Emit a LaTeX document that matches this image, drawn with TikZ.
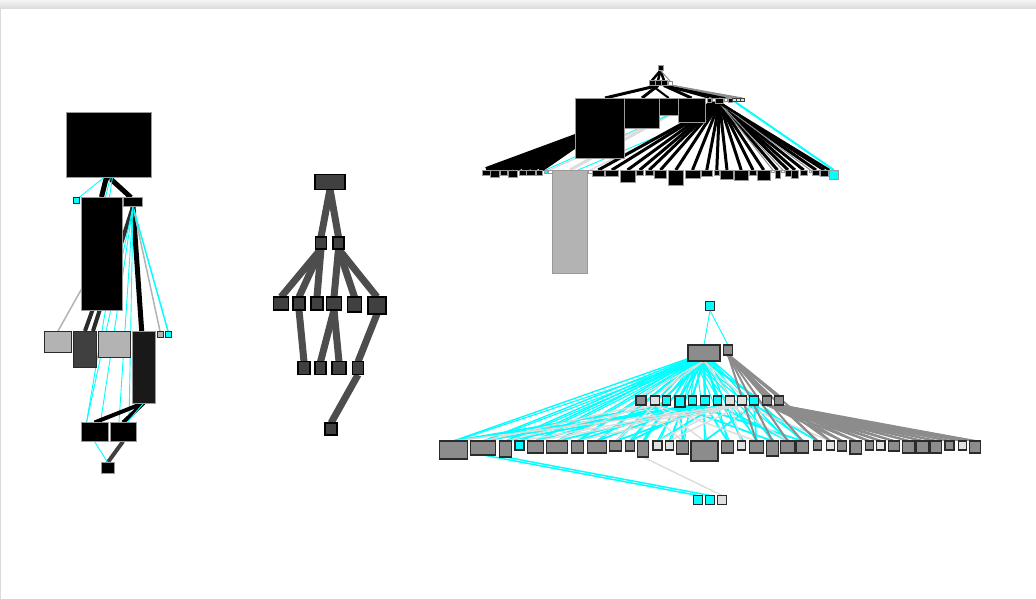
\documentclass[tikz,border=0pt]{standalone}
\usetikzlibrary{positioning}
\definecolor{Aqua}{HTML}{00FFFF}
\definecolor{Smoke}{HTML}{B3B3B3}
\definecolor{Slate}{HTML}{404040}
\definecolor{Steel}{HTML}{8C8C8C}
\definecolor{Pale}{HTML}{E0E0E0}
\definecolor{Rim}{HTML}{2B2B2B}
\definecolor{Frame}{HTML}{9A9A9A}
\definecolor{Wire}{HTML}{4D4D4D}
\definecolor{Dust}{HTML}{DCDCDC}
\definecolor{Haze}{HTML}{F4F4F4}
\definecolor{Shade}{HTML}{DADADA}
\pgfdeclarelayer{paper}
\pgfdeclarelayer{wires}
\pgfsetlayers{paper,wires,main}
\tikzset{
  box/.style={rectangle, inner sep=0pt, outer sep=0pt, line width=0.6pt},
  dims/.style 2 args={minimum width=#1pt, minimum height=#2pt},
  inkbox/.style={box, fill=black, draw=Frame},
  smokebox/.style={box, fill=Smoke, draw=Rim, line width=1pt},
  slatebox/.style={box, fill=Slate, draw=black, line width=1.3pt},
  steelbox/.style={box, fill=Steel, draw=Rim, line width=1.1pt},
  aquabox/.style={box, fill=Aqua, draw=Rim, line width=1.1pt},
  inklink/.style={draw=black, line width=4pt},
  slatelink/.style={draw=Slate, line width=4pt},
  greylink/.style={draw=Smoke, line width=1.5pt},
  steellink/.style={draw=Steel, line width=1.5pt},
  dustlink/.style={draw=Dust, line width=1.4pt},
  aqualink/.style={draw=Aqua, line width=0.9pt},
  bandlink/.style={draw=Wire, line width=7pt}
}
\begin{document}
\begin{tikzpicture}[x=1pt, y=-1pt]
  \useasboundingbox (0,0) rectangle (1036,599);
  \begin{pgfonlayer}{paper}
    \fill[white] (0,0) rectangle (1036,599);
    \shade[top color=Haze, bottom color=Shade] (0,0) rectangle (1036,9);
    \draw[Shade, line width=1pt] (0.5,9) -- (0.5,599);
  \end{pgfonlayer}

  % left graph
  \node[inkbox, dims={85}{65}] (hubA) at (108.5,144.5) {};
  \node[aquabox, dims={6}{6}, line width=0.7pt] (seedA) at (76,200.5) {};
  \node[inkbox, dims={41}{113}] (tallA) at (101.5,253.5) {};
  \node[inkbox, dims={19}{9}] (forkA) at (133,202) {};
  \node[smokebox, dims={27}{21}, anchor=north] (a1) at (58,331) {};
  \node[box, fill=Slate, draw=Rim, dims={23}{36}, anchor=north] (a2) at (85,331) {};
  \node[smokebox, dims={32}{26}, anchor=north] (a3) at (114.3,331) {};
  \node[box, fill=black!90, draw=Frame, dims={23}{72}, anchor=north] (a4) at (143.7,331) {};
  \node[smokebox, dims={6}{6}, anchor=north, line width=0.7pt] (a5) at (160,331) {};
  \node[aquabox, dims={6}{6}, anchor=north, line width=0.7pt] (a6) at (168,331) {};
  \node[inkbox, dims={27}{19}] (lowA) at (94.5,432) {};
  \node[inkbox, dims={26}{19}] (lowB) at (123,432) {};
  \node[inkbox, dims={13}{11}] (sinkA) at (107.7,468) {};

  % middle graph
  \node[slatebox, dims={30}{15}] (topB) at (330,181.7) {};
  \node[slatebox, dims={11}{12}] (m1) at (321,243) {};
  \node[slatebox, dims={11}{12}] (m2) at (338.5,243) {};
  \foreach \i/\x/\w/\h in {1/281/15/13, 2/299/12/13, 3/317/12/13, 4/334/15/13, 5/354.5/14/15, 6/377/18/17}
    \node[slatebox, dims={\w}{\h}, anchor=north] (n\i) at (\x,297) {};
  \foreach \i/\x/\w in {1/304/12, 2/320.5/11, 3/339/14, 4/358/11}
    \node[slatebox, dims={\w}{13}] (k\i) at (\x,368.3) {};
  \node[slatebox, dims={12}{12}] (sinkB) at (331,429) {};

  % top right graph
  \node[inkbox, dims={5}{5}] (rootC) at (660.5,68) {};
  \foreach \i/\x in {1/652, 2/658, 3/664}
    \node[inkbox, dims={6}{5}] (mid\i) at (\x,83) {};
  \node[box, fill=white, draw=Steel, dims={4}{4}] (mid4) at (670,83) {};
  \node[inkbox, dims={49}{60}, anchor=north west] (blkA) at (575.5,98) {};
  \node[inkbox, dims={35}{30}, anchor=north west] (blkB) at (624.5,98) {};
  \node[inkbox, dims={18.5}{17}, anchor=north west] (blkC) at (659.5,98) {};
  \node[inkbox, dims={27}{24}, anchor=north west] (blkD) at (678,98) {};
  \node[inkbox, dims={4}{4}, anchor=north] (s1) at (709,98) {};
  \node[box, fill=white, draw=Steel, dims={3}{3}, anchor=north] (s2) at (713.5,98) {};
  \node[inkbox, dims={8}{5}, anchor=north] (hubC) at (719.5,98) {};
  \node[box, fill=white, draw=Steel, dims={3}{3}, anchor=north] (s3) at (725.5,98) {};
  \node[inkbox, dims={4}{4}, anchor=north] (s4) at (730,98) {};
  \foreach \i/\x in {5/734.5, 6/738.5, 7/742.5}
    \node[box, fill=Pale, draw=Slate, dims={3.5}{3.5}, anchor=north] (s\i) at (\x,98) {};
  \foreach \i/\x/\w/\h/\f in {1/486.3/7.3/5/black, 2/495/8.6/7/black, 3/504/6.7/5/black,
      4/512.8/9/7/black, 5/522.5/7/5/black, 6/530.8/8.3/5/black, 7/539.3/6.7/5/black,
      8/545.7/3.5/3.5/Aqua, 9/550/3.5/3.5/white, 10/570/34.7/103/Smoke, 11/590/3.5/3.5/white,
      12/598.3/11.3/6/black, 13/611.8/13/6/black, 14/627.5/15/12/black, 15/639.7/7.3/5/black,
      16/649.2/8.3/5/black, 17/660.5/12.3/8/black, 18/675.8/15/15/black, 19/692.5/15/8/black,
      20/706.8/11.7/6/black, 21/716.8/5/5/black, 22/727/12.7/9/black, 23/741.2/14.3/10/black,
      24/753/7.3/5/black, 25/763.7/12.7/10/black, 26/772.8/2.5/2.5/white, 27/777.5/5/8/black,
      28/782.8/2.5/2.5/white, 29/788/6/6/black, 30/795/6.7/8/black, 31/803.7/7.3/5/black,
      32/810.3/2.7/2.7/white, 33/816/6.7/5/black, 34/824.2/8.3/6/black, 35/833.8/9/9/Aqua}
    \node[box, fill=\f, draw=Frame, line width=0.5pt, dims={\w}{\h}, anchor=north] (t\i) at (\x,170) {};

  % bottom right graph
  \node[aquabox, dims={9}{9}] (seedD) at (710,306) {};
  \node[steelbox, dims={32}{16}] (bigD) at (704,353) {};
  \node[steelbox, dims={9}{10}, anchor=north] (sideD) at (728,345) {};
  \foreach \i/\x/\w/\h/\f in {1/641/10/9/Steel, 2/655.3/9/9/Pale, 3/666.7/8/9/Aqua, 4/680/10/11/Aqua,
      5/692.5/8.5/9/Aqua, 6/705/9/9/Aqua, 7/717.5/8.5/9/Aqua, 8/730/8.5/9/Pale, 9/742/9/9/Pale,
      10/754/8.5/9/Aqua, 11/767/9/9/Steel, 12/778.7/9/9/Steel}
    \node[box, fill=\f, draw=Rim, line width=1.1pt, dims={\w}{\h}, anchor=north] (r\i) at (\x,396) {};
  \foreach \i/\x/\w/\h/\f in {1/453.3/28/18/Steel, 2/483.2/25/14/Steel, 3/505.5/12.3/16/Steel,
      4/519.5/9/9/Aqua, 5/535.3/16/12/Steel, 6/557.2/21/12/Steel, 7/577.2/12.3/12/Steel,
      8/597/19.3/12/Steel, 9/615.5/12.3/10/Steel, 10/629.7/9.3/10/Steel, 11/643/10.7/16/Steel,
      12/657.5/9/9/Pale, 13/669.2/8.3/9/Pale, 14/682.5/11.7/13/Steel, 15/704.5/27/20/Steel,
      16/727.5/11.7/12/Steel, 17/741.5/8.3/9/Pale, 18/756.3/14/12/Steel, 19/772.5/11.7/15/Steel,
      20/787.8/14.3/12/Steel, 21/802.5/11.7/12/Steel, 22/817.5/8.3/9/Steel, 23/830.2/8.3/9/Pale,
      24/842.2/9/10/Steel, 25/855.8/11.7/13/Steel, 26/869.2/8.3/9/Steel, 27/880.8/8.3/9/Pale,
      28/893.8/11/10/Steel, 29/908.8/12.3/12/Steel, 30/922.5/11.7/12/Steel, 31/935.8/11.7/12/Steel,
      32/949.5/9/9/Steel, 33/962.5/8.3/9/Pale, 34/974.7/10.7/12/Steel}
    \node[box, fill=\f, draw=Rim, line width=1.1pt, dims={\w}{\h}, anchor=north] (b\i) at (\x,441) {};
  \foreach \i/\x/\f in {1/698/Aqua, 2/710/Aqua, 3/722/Pale}
    \node[box, fill=\f, draw=Rim, line width=1.1pt, dims={9}{9}] (d\i) at (\x,500) {};

  \begin{pgfonlayer}{wires}
    % left graph
    \draw[inklink, line width=5pt] ([xshift=-2pt]hubA.south) -- (tallA.north);
    \draw[inklink, line width=5pt] (hubA.south) -- ([xshift=-2pt]forkA.north);
    \draw[aqualink] ([xshift=-4pt]hubA.south) -- (seedA.north east);
    \draw[aqualink] ([xshift=2pt]hubA.south) -- ([xshift=4pt]tallA.north);
    \draw[aqualink] ([xshift=4pt]hubA.south) -- ([xshift=8pt]tallA.north);
    \draw[inklink, line width=5pt] (forkA.south) -- ([xshift=-2pt]a4.north);
    \draw[greylink] (forkA.south) -- (a5.north);
    \draw[aqualink, line width=1.5pt] (forkA.south) -- (a6.north);
    \draw[slatelink, draw=Rim] (forkA.south) -- ([xshift=8pt]a2.north);
    \draw[greylink] (tallA.center) -- (a1.north);
    \draw[slatelink, draw=Rim] ([xshift=-9pt]tallA.south) -- (a2.north);
    \draw[aqualink] (forkA.south) -- ([xshift=-8pt]lowA.north);
    \draw[aqualink] (forkA.south) -- ([xshift=6pt]lowA.north);
    \draw[aqualink] (forkA.south) -- ([xshift=-4pt]lowB.north);
    \draw[aqualink] (forkA.south) -- ([xshift=6pt]lowB.north);
    \draw[aqualink] ([xshift=4pt]tallA.south) -- ([xshift=-8pt]lowA.north);
    \draw[inklink] (a4.south) -- (lowA.north);
    \draw[inklink] (a4.south) -- (lowB.north);
    \draw[aqualink] (a4.south) -- ([xshift=4pt]lowB.north);
    \draw[slatelink] (lowB.south) -- (sinkA.north);
    \draw[aqualink] (lowA.south) -- (sinkA.north);
    % middle graph
    \foreach \s/\t in {topB/m1, topB/m2, m1/n1, m1/n2, m1/n3, m2/n4, m2/n5, m2/n6,
        n2/k1, n4/k2, n4/k3, n6/k4, k4/sinkB}
      \draw[bandlink] (\s.south) -- (\t.north);
    % top right graph
    \foreach \t in {mid1, mid2, mid3}
      \draw[inklink, line width=2.5pt] (rootC.south) -- (\t.north);
    \draw[steellink, line width=1pt] (rootC.south) -- (mid4.north);
    \draw[inklink, line width=3pt] (mid2.south) -- ([xshift=5pt]blkA.north);
    \draw[inklink, line width=3pt] (mid2.south) -- (blkB.north);
    \draw[inklink, line width=3pt] (mid3.south) -- (blkD.north);
    \draw[inklink, line width=3pt] (mid3.south) -- (hubC.north);
    \draw[inklink, line width=2pt] (mid1.south) -- (blkC.north);
    \foreach \t in {s4, s5, s6, s7}
      \draw[steellink, line width=1pt] (mid4.south) -- (\t.north);
    \foreach \t in {s1, s3}
      \draw[inklink, line width=1.5pt] (mid3.south) -- (\t.north);
    \foreach \j in {1,...,7}
      \draw[inklink, line width=6pt] (blkA.center) -- (t\j.north);
    \draw[inklink, line width=10pt] (blkD.east) -- (hubC.south);
    \draw[dustlink, line width=3pt] (blkC.south) -- (t10.north);
    \draw[aqualink] (blkC.south) -- (t8.north);
    \draw[aqualink] (blkD.south) -- ([xshift=8pt]t10.north);
    \draw[dustlink] (blkB.south) -- (t9.north);
    \draw[dustlink] (blkD.south) -- (t11.north);
    \foreach \j in {12,...,25,27,29,30,31,33,34}
      \draw[inklink, line width=3pt] (hubC.south) -- (t\j.north);
    \foreach \j in {26, 28, 32}
      \draw[steellink, line width=1pt] (hubC.south) -- (t\j.north);
    \draw[aqualink, line width=2pt] (s5.south) -- (t35.north);
    \draw[inklink, line width=2.5pt] (hubC.south) -- (t35.north west);
    % bottom right graph
    \draw[aqualink] (seedD.south) -- (bigD.north);
    \draw[aqualink] (seedD.south) -- (sideD.north);
    \foreach \j in {1,...,21} {
      \draw[aqualink, line width=1.4pt] (bigD.center) -- (b\j.north);
      \draw[aqualink, line width=1.1pt] ([xshift=-8pt]bigD.south) -- ([xshift=2pt]b\j.north);
    }
    \foreach \j in {3,4,5,6,7,10}
      \draw[aqualink, line width=2pt] (bigD.south) -- (r\j.north);
    \foreach \j in {1,2,8,9}
      \draw[dustlink] (bigD.south) -- (r\j.north);
    \foreach \s/\t in {r3/b5, r3/b11, r4/b14, r4/b19, r5/b8, r5/b21, r6/b16, r6/b1,
        r7/b20, r7/b9, r10/b22, r10/b18, r4/b2, r6/b6, r3/b1, r5/b3, r7/b12, r10/b15,
        r4/b7, r6/b10}
      \draw[aqualink, line width=1.8pt] (\s.south) -- (\t.north);
    \foreach \s/\t in {r2/b3, r2/b9, r8/b12, r8/b17, r9/b23, r9/b13, r1/b6, r1/b2, r8/b4, r9/b7,
        r2/b15, r8/b20, r9/b1, r1/b14, r2/b18, r9/b5}
      \draw[dustlink] (\s.south) -- (\t.north);
    \foreach \t in {r11, r12}
      \draw[steellink, line width=3pt] (sideD.south) -- (\t.north);
    \foreach \j in {18,...,23}
      \draw[steellink, line width=2pt] (sideD.south) -- (b\j.north);
    \foreach \j in {22,...,34}
      \draw[steellink, line width=2pt] (r12.south) -- (b\j.north);
    \foreach \j in {24,...,34}
      \draw[steellink, line width=2pt] (r11.south) -- (b\j.north);
    \draw[aqualink, line width=1.5pt] (b2.south) -- (d1.north);
    \draw[aqualink, line width=1.5pt] (b3.south) -- (d2.north);
    \draw[dustlink] (b11.south) -- (d3.north);
  \end{pgfonlayer}
\end{tikzpicture}
\end{document}
